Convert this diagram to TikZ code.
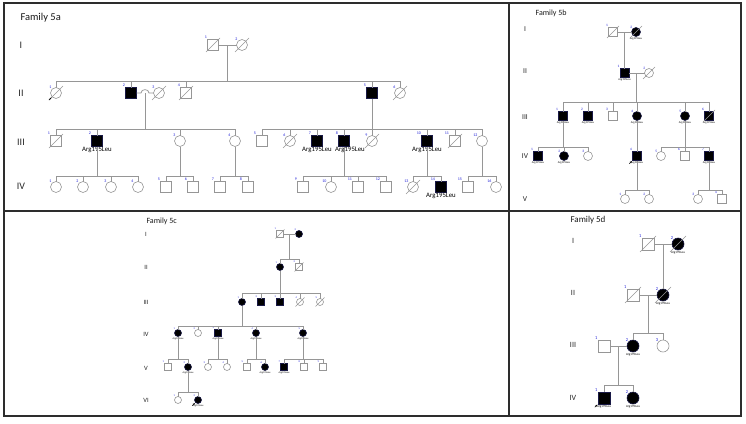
\documentclass[tikz,border=0pt]{standalone}
\usepackage{fontspec}
\setmainfont{Carlito}
\usetikzlibrary{arrows.meta,calc}
\definecolor{lgrey}{RGB}{150,150,150}
\definecolor{numblue}{RGB}{30,30,215}
\definecolor{framec}{RGB}{45,45,45}
\definecolor{affdraw}{RGB}{25,25,70}
\newcommand\fs[1]{\fontsize{#1}{#1}\selectfont}
\newcommand\dec[2]{\draw[decl] ([shift={(-#2,#2)}]#1.center) -- ([shift={(#2,-#2)}]#1.center);}
\newcommand\prob[1]{\draw[probar] ([shift={(-3.2,3.2)}]#1.south west) -- ([shift={(-0.6,0.6)}]#1.south west);}
\newcommand\sibline[3]{\draw[ln] (#2.north) -- (#2.north |- 0,#1) -- (#3.north |- 0,#1) -- (#3.north);}
\newcommand\drop[2]{\draw[ln] (#2.north) -- (#2.north |- 0,#1);}
\newcommand\desc[2]{\draw[ln] (#2) -- (#2 |- 0,#1);}
\def\numsz{4}\def\mutsz{7}
\begin{document}
\begin{tikzpicture}[x=1pt,y=-1pt,
  ln/.style={draw=lgrey,line width=0.7pt},
  decl/.style={draw=lgrey,line width=0.6pt},
  probar/.style={-{Stealth[length=2.2pt,width=1.8pt]},black,line width=0.5pt},
  ma/.style={rectangle,draw=lgrey,line width=0.6pt,minimum size=#1,inner sep=0pt,outer sep=0pt},
  fe/.style={circle,draw=lgrey,line width=0.6pt,minimum size=#1,inner sep=0pt,outer sep=0pt},
  aff/.style={fill=black,draw=affdraw},
  num/.style={text=numblue,font=\fs{\numsz},inner sep=0.4pt,anchor=south east},
  nl/.style={label={[num]north west:#1}},
  mut/.style={font=\fs{\mutsz},inner sep=0.8pt,text=black},
  gl/.style={label={[mut]below:Arg195Leu}},
  gls/.style={label={[mut,xshift=#1]below:Arg195Leu}},
  gen/.style={font=\fs{#1},text=black!85},
  title/.style={font=\fs{#1},anchor=west,text=black!90}
]
\useasboundingbox (0,0) rectangle (746,423);
% frame
\draw[framec,line width=1.2pt] (4,3) rectangle (741,416);
\draw[framec,line width=1.2pt] (4,211) -- (741,211);
\draw[framec,line width=1.2pt] (509,3) -- (509,416);

% ================= Family 5a =================
\begin{scope}
\def\numsz{4}\def\mutsz{6.8}
\node[title=10.5] (t5a) at (17,18) {Family 5a};
\node[gen=10] (a-gI) at (21,45) {I};
\node[gen=10] (a-gII) at (21,93) {II};
\node[gen=10] (a-gIII) at (21,142) {III};
\node[gen=10] (a-gIV) at (21,186) {IV};
% I
\node[ma=11,nl=1] (a-I1) at (213,45) {};
\node[fe=11,nl=2] (a-I2) at (242,45) {};
\dec{a-I1}{7}\dec{a-I2}{7}
\draw[ln] (a-I1) -- (a-I2);
\coordinate (a-m1) at ($(a-I1.east)!0.5!(a-I2.west)$);
\desc{81}{a-m1}
% II
\node[fe=11,nl=1] (a-II1) at (56,93) {};
\node[ma=11,aff,nl=2] (a-II2) at (131,93) {};
\node[fe=11,nl=3] (a-II3) at (159,93) {};
\node[ma=11,nl=4] (a-II4) at (186,93) {};
\node[ma=11,aff,nl=5] (a-II5) at (372,93) {};
\node[fe=11,nl=6] (a-II6) at (400,93) {};
\dec{a-II1}{7}\dec{a-II3}{7}\dec{a-II4}{7}\dec{a-II6}{7}
\prob{a-II1}
\sibline{81}{a-II1}{a-II6}
\drop{81}{a-II2}\drop{81}{a-II4}\drop{81}{a-II5}
\draw[ln] (a-II2.east) -- (141,93) .. controls (141,88.5) and (149,88.5) .. (149,93) -- (a-II3.west);
\coordinate (a-m2) at (145,93);
\desc{129}{a-m2}
\desc{129}{a-II5.south}
% III
\node[ma=11,nl=1] (a-III1) at (56,141) {};
\node[ma=11,aff,gl,nl=2] (a-III2) at (97,141) {};
\node[fe=11,nl=3] (a-III3) at (180,141) {};
\node[fe=11,nl=4] (a-III4) at (235,141) {};
\node[ma=11,nl=5] (a-III5) at (262,141) {};
\node[fe=11,nl=6] (a-III6) at (290,141) {};
\node[ma=11,aff,gl,nl=7] (a-III7) at (317,141) {};
\node[ma=11,aff,gls=6pt,nl=8] (a-III8) at (344,141) {};
\node[fe=11,nl=9] (a-III9) at (372,141) {};
\node[ma=11,aff,gl,nl=10] (a-III10) at (427,141) {};
\node[ma=11,nl=11] (a-III11) at (455,141) {};
\node[fe=11,nl=12] (a-III12) at (482,141) {};
\dec{a-III1}{7}\dec{a-III6}{7}\dec{a-III9}{7}\dec{a-III11}{7}
\sibline{129}{a-III1}{a-III4}
\drop{129}{a-III2}\drop{129}{a-III3}
\sibline{129}{a-III5}{a-III12}
\drop{129}{a-III6}\drop{129}{a-III7}\drop{129}{a-III8}\drop{129}{a-III9}\drop{129}{a-III10}\drop{129}{a-III11}
% IV
\node[fe=11,nl=1] (a-IV1) at (56,187) {};
\node[fe=11,nl=2] (a-IV2) at (83,187) {};
\node[fe=11,nl=3] (a-IV3) at (111,187) {};
\node[fe=11,nl=4] (a-IV4) at (138,187) {};
\node[ma=11,nl=5] (a-IV5) at (166,187) {};
\node[ma=11,nl=6] (a-IV6) at (193,187) {};
\node[ma=11,nl=7] (a-IV7) at (220,187) {};
\node[ma=11,nl=8] (a-IV8) at (248,187) {};
\node[ma=11,nl=9] (a-IV9) at (303,187) {};
\node[fe=11,nl=10] (a-IV10) at (331,187) {};
\node[ma=11,nl=11] (a-IV11) at (358,187) {};
\node[ma=11,nl=12] (a-IV12) at (386,187) {};
\node[fe=11,nl=13] (a-IV13) at (413,187) {};
\node[ma=11,aff,gl,nl=14] (a-IV14) at (441,187) {};
\node[ma=11,nl=15] (a-IV15) at (468,187) {};
\node[fe=11,nl=16] (a-IV16) at (496,187) {};
\dec{a-IV13}{7}
\desc{176}{a-III2.south}\desc{176}{a-III3.south}\desc{176}{a-III4.south}
\desc{176}{a-III8.south}\desc{176}{a-III10.south}\desc{176}{a-III12.south}
\sibline{176}{a-IV1}{a-IV4}\drop{176}{a-IV2}\drop{176}{a-IV3}
\sibline{176}{a-IV5}{a-IV6}
\sibline{176}{a-IV7}{a-IV8}
\sibline{176}{a-IV9}{a-IV12}\drop{176}{a-IV10}\drop{176}{a-IV11}
\sibline{176}{a-IV13}{a-IV14}
\sibline{176}{a-IV15}{a-IV16}
\end{scope}

% ================= Family 5b =================
\begin{scope}
\def\numsz{3.5}\def\mutsz{2.8}
\node[title=8] (t5b) at (532,13) {Family 5b};
\node[gen=7.5] (b-gI) at (525,29) {I};
\node[gen=7.5] (b-gII) at (525,71) {II};
\node[gen=7.5] (b-gIII) at (525,117) {III};
\node[gen=7.5] (b-gIV) at (525,156) {IV};
\node[gen=7.5] (b-gV) at (525,199) {V};
% I
\node[ma=9,nl=1] (b-I1) at (613,32) {};
\node[fe=9,aff,gl,nl=2] (b-I2) at (636,32) {};
\dec{b-I1}{6}\dec{b-I2}{6}
\draw[ln] (b-I1) -- (b-I2);
\coordinate (b-m1) at ($(b-I1.east)!0.5!(b-I2.west)$);
% II
\node[ma=9,aff,gl,nl=1] (b-II1) at (624.5,73) {};
\node[fe=9,nl=2] (b-II2) at (649,73) {};
\dec{b-II2}{6}
\draw[ln] (b-m1) -- (b-II1.north);
\draw[ln] (b-II1) -- (b-II2);
\coordinate (b-m2) at ($(b-II1.east)!0.5!(b-II2.west)$);
\desc{102}{b-m2}
% III
\node[ma=9,aff,gl,nl=1] (b-III1) at (563,116) {};
\node[ma=9,aff,gl,nl=2] (b-III2) at (588,116) {};
\node[ma=9,nl=3] (b-III3) at (613,116) {};
\node[fe=9,aff,gl,nl=4] (b-III4) at (637,116) {};
\node[fe=9,aff,gl,nl=5] (b-III5) at (685,116) {};
\node[ma=9,aff,gl,nl=6] (b-III6) at (709,116) {};
\dec{b-III6}{6}
\sibline{102}{b-III1}{b-III6}
\drop{102}{b-III2}\drop{102}{b-III3}\drop{102}{b-III4}\drop{102}{b-III5}
% IV
\node[ma=9,aff,gl,nl=1] (b-IV1) at (538,156) {};
\node[fe=9,aff,gl,nl=2] (b-IV2) at (564,156) {};
\node[fe=9,nl=3] (b-IV3) at (588,156) {};
\node[ma=9,aff,gl,nl=4] (b-IV4) at (637,156) {};
\node[fe=9,nl=5] (b-IV5) at (661,156) {};
\node[ma=9,nl=6] (b-IV6) at (685,156) {};
\node[ma=9,aff,gl,nl=7] (b-IV7) at (709,156) {};
\prob{b-IV4}
\desc{147}{b-III1.south}
\sibline{147}{b-IV1}{b-IV3}\drop{147}{b-IV2}
\draw[ln] (b-III4.south) -- (b-IV4.north);
\desc{147}{b-III5.south}
\sibline{147}{b-IV5}{b-IV7}\drop{147}{b-IV6}
% V
\node[fe=9,nl=1] (b-V1) at (625,199) {};
\node[fe=9,nl=2] (b-V2) at (649,199) {};
\node[fe=9,nl=3] (b-V3) at (698,199) {};
\node[ma=9,nl=4] (b-V4) at (722,199) {};
\desc{190}{b-IV4.south}
\sibline{190}{b-V1}{b-V2}
\desc{190}{b-IV7.south}
\sibline{190}{b-V3}{b-V4}
\end{scope}

% ================= Family 5c =================
\begin{scope}
\def\numsz{2.6}\def\mutsz{2.5}
\node[title=8] (t5c) at (143,221) {Family 5c};
\node[gen=6.5] (c-gI) at (146,234) {I};
\node[gen=6.5] (c-gII) at (146,267) {II};
\node[gen=6.5] (c-gIII) at (146,302) {III};
\node[gen=6.5] (c-gIV) at (146,334) {IV};
\node[gen=6.5] (c-gV) at (146,368) {V};
\node[gen=6.5] (c-gVI) at (146,400) {VI};
% I
\node[ma=7,nl=1] (c-I1) at (280,234) {};
\node[fe=7,aff,nl=2] (c-I2) at (299,234) {};
\dec{c-I1}{4.5}
\draw[ln] (c-I1) -- (c-I2);
\coordinate (c-m1) at ($(c-I1.east)!0.5!(c-I2.west)$);
\desc{259}{c-m1}
% II
\node[fe=7,aff,nl=1] (c-II1) at (280,267) {};
\node[ma=7,nl=2] (c-II2) at (299,267) {};
\dec{c-II2}{4.5}
\sibline{259}{c-II1}{c-II2}
\desc{293}{c-II1.south}
% III
\node[fe=7,aff,nl=1] (c-III1) at (242,302) {};
\node[ma=7,aff,nl=2] (c-III2) at (261,302) {};
\node[ma=7,aff,nl=3] (c-III3) at (280,302) {};
\node[fe=7,nl=4] (c-III4) at (300,302) {};
\node[fe=7,nl=5] (c-III5) at (320,302) {};
\dec{c-III4}{4.5}\dec{c-III5}{4.5}
\sibline{293}{c-III1}{c-III5}
\drop{293}{c-III2}\drop{293}{c-III3}\drop{293}{c-III4}
\desc{326}{c-III1.south}
% IV
\node[fe=7,aff,gl,nl=1] (c-IV1) at (178,333) {};
\node[fe=7,nl=2] (c-IV2) at (198,333) {};
\node[ma=7,aff,gl,nl=3] (c-IV3) at (218,333) {};
\node[fe=7,aff,gl,nl=4] (c-IV4) at (256,333) {};
\node[fe=7,aff,gl,nl=5] (c-IV5) at (303,333) {};
\sibline{326}{c-IV1}{c-IV5}
\drop{326}{c-IV2}\drop{326}{c-IV3}\drop{326}{c-IV4}
% V
\node[ma=7,nl=1] (c-V1) at (168,367) {};
\node[fe=7,aff,gl,nl=2] (c-V2) at (188,367) {};
\node[fe=7,nl=3] (c-V3) at (208,367) {};
\node[fe=7,nl=4] (c-V4) at (227,367) {};
\node[ma=7,nl=5] (c-V5) at (247,367) {};
\node[fe=7,aff,gl,nl=6] (c-V6) at (265,367) {};
\node[ma=7,aff,gl,nl=7] (c-V7) at (284,367) {};
\node[ma=7,nl=8] (c-V8) at (304,367) {};
\node[ma=7,nl=9] (c-V9) at (323,367) {};
\desc{359}{c-IV1.south}\desc{359}{c-IV3.south}\desc{359}{c-IV4.south}\desc{359}{c-IV5.south}
\sibline{359}{c-V1}{c-V2}
\sibline{359}{c-V3}{c-V4}
\sibline{359}{c-V5}{c-V6}
\sibline{359}{c-V7}{c-V9}\drop{359}{c-V8}
% VI
\node[fe=7,nl=1] (c-VI1) at (178,400) {};
\node[fe=7,aff,gl,nl=2] (c-VI2) at (198,400) {};
\prob{c-VI2}
\desc{392}{c-V2.south}
\sibline{392}{c-VI1}{c-VI2}
\end{scope}

% ================= Family 5d =================
\begin{scope}
\def\numsz{4.5}\def\mutsz{3.2}
\node[title=9] (t5d) at (567,220) {Family 5d};
\node[gen=8] (d-gI) at (573,241) {I};
\node[gen=8] (d-gII) at (573,293) {II};
\node[gen=8] (d-gIII) at (573,345) {III};
\node[gen=8] (d-gIV) at (573,398) {IV};
% I
\node[ma=12,nl=1] (d-I1) at (648,244) {};
\node[fe=12,aff,gl,nl=2] (d-I2) at (678,244) {};
\dec{d-I1}{8}\dec{d-I2}{8}
\draw[ln] (d-I1) -- (d-I2);
\coordinate (d-m1) at ($(d-I1.east)!0.5!(d-I2.west)$);
% II
\node[ma=12,nl=1] (d-II1) at (633,295) {};
\node[fe=12,aff,gl,nl=2] (d-II2) at (663,295) {};
\dec{d-II1}{8}\dec{d-II2}{8}
\draw[ln] (d-m1) -- (d-II2.north);
\draw[ln] (d-II1) -- (d-II2);
\coordinate (d-m2) at ($(d-II1.east)!0.5!(d-II2.west)$);
\desc{333}{d-m2}
% III
\node[ma=12,nl=1] (d-III1) at (604,346) {};
\node[fe=12,aff,gl,nl=2] (d-III2) at (633,346) {};
\node[fe=12,nl=3] (d-III3) at (663,346) {};
\sibline{333}{d-III2}{d-III3}
\draw[ln] (d-III1) -- (d-III2);
\coordinate (d-m3) at ($(d-III1.east)!0.5!(d-III2.west)$);
\desc{385}{d-m3}
% IV
\node[ma=12,aff,gl,nl=1] (d-IV1) at (604,398) {};
\node[fe=12,aff,gl,nl=2] (d-IV2) at (633,398) {};
\prob{d-IV1}
\sibline{385}{d-IV1}{d-IV2}
\end{scope}
\end{tikzpicture}
\end{document}
